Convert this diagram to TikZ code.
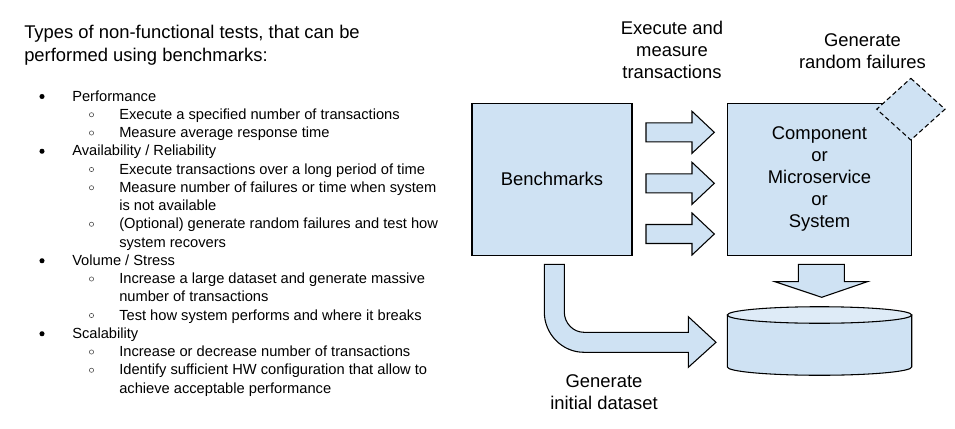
\documentclass[tikz,border=0pt]{standalone}
\usepackage{fontspec}
\setmainfont{Liberation Sans}
\usepackage{tikz}

\definecolor{paleblue}{HTML}{CFE2F3}
\definecolor{paletop}{HTML}{DEEBF7}

\tikzset{
  blockfill/.style={draw=black, fill=paleblue, line width=0.8pt, line join=miter},
  heading/.style={anchor=base west, inner sep=0pt, font=\fontsize{13.8}{16.5}\selectfont},
  entry/.style={anchor=base west, inner sep=0pt, font=\fontsize{11}{13.7}\selectfont},
  caption/.style={anchor=base, inner sep=0pt, font=\fontsize{13.8}{16.5}\selectfont},
}
\newcommand{\pointdot}[1]{\fill (42,#1-4.5) circle[radius=1.9pt];}
\newcommand{\pointring}[1]{\draw[black!70, line width=0.4pt] (91.5,#1-4.5) circle[radius=1.6pt];}

\begin{document}
\begin{tikzpicture}[x=0.75pt, y=-0.75pt]
  \useasboundingbox (0,0) rectangle (955,428);

  % left: list of test types
  \node[heading] (head1) at (24,39) {Types of non-functional tests, that can be};
  \node[heading] (head2) at (24,61) {performed using benchmarks:};

  \pointdot{101}    \node[entry] (perf)   at (72,101)    {Performance};
  \pointring{119.25}\node[entry] (perf1)  at (119,119.25){Execute a specified number of transactions};
  \pointring{137.5} \node[entry] (perf2)  at (119,137.5) {Measure average response time};
  \pointdot{155.75} \node[entry] (avail)  at (72,155.75) {Availability / Reliability};
  \pointring{174}   \node[entry] (avail1) at (119,174)   {Execute transactions over a long period of time};
  \pointring{192.25}\node[entry] (avail2) at (119,192.25){Measure number of failures or time when system};
                    \node[entry] (avail2b) at (119,210.5){is not available};
  \pointring{228.75}\node[entry] (avail3) at (119,228.75){(Optional) generate random failures and test how};
                    \node[entry] (avail3b) at (119,247)  {system recovers};
  \pointdot{265.25} \node[entry] (vol)    at (72,265.25) {Volume / Stress};
  \pointring{283.5} \node[entry] (vol1)   at (119,283.5) {Increase a large dataset and generate massive};
                    \node[entry] (vol1b)  at (119,301.75){number of transactions};
  \pointring{320}   \node[entry] (vol2)   at (119,320)   {Test how system performs and where it breaks};
  \pointdot{338.25} \node[entry] (scal)   at (72,338.25) {Scalability};
  \pointring{356.5} \node[entry] (scal1)  at (119,356.5) {Increase or decrease number of transactions};
  \pointring{374.75}\node[entry] (scal2)  at (119,374.75){Identify sufficient HW configuration that allow to};
                    \node[entry] (scal2b) at (119,393)   {achieve acceptable performance};

  % right: benchmark setup
  \node[blockfill, minimum width=120pt, minimum height=113.8pt, inner sep=0pt,
        font=\fontsize{13.8}{16.5}\selectfont] (bench) at (552,179.2) {Benchmarks};
  \node[blockfill, minimum width=138.3pt, minimum height=113.8pt, inner sep=0pt, align=center,
        font=\fontsize{13.8}{16.5}\selectfont] (comp) at (819.5,179.2)
        {Component\\or\\Microservice\\or\\System};

  % failure injector
  \draw[blockfill, dash pattern=on 3.5pt off 2.2pt]
        (910.8,78.3) -- (945,109.2) -- (910.8,140) -- (876.7,109.2) -- cycle;

  % transaction arrows
  \foreach \y in {132.3,183.3,234} {
    \draw[blockfill] (646,\y-9.5) -- (692,\y-9.5) -- (692,\y-21) -- (714.3,\y)
          -- (692,\y+21) -- (692,\y+9.5) -- (646,\y+9.5) -- cycle;
  }

  % component writes to the database
  \draw[blockfill] (798.3,264.3) -- (844.3,264.3) -- (844.3,281.7) -- (867.3,281.7)
        -- (821.7,297.3) -- (775,281.7) -- (798.3,281.7) -- cycle;

  % initial dataset arrow
  \draw[blockfill] (544.3,264.3) -- (564.3,264.3) -- (564.3,312)
        .. controls (564.3,323) and (573,332.3) .. (584,332.3)
        -- (688.3,332.3) -- (688.3,316.7) -- (716,342.3) -- (688.3,367.3)
        -- (688.3,352.3) -- (584,352.3)
        .. controls (562,352.3) and (544.3,334) .. (544.3,312) -- cycle;

  % database
  \draw[blockfill] (727.3,315) -- (727.3,367)
        arc[start angle=180, end angle=360, x radius=69.15pt, y radius=6.2pt]
        -- (911.7,315) -- cycle;
  \draw[blockfill, fill=paletop] (819.5,315) ellipse[x radius=69.15pt, y radius=6.2pt];

  % captions
  \node[caption] (exec1) at (672,35)   {Execute and};
  \node[caption] (exec2) at (672,57)   {measure};
  \node[caption] (exec3) at (672,79)   {transactions};
  \node[caption] (fail1) at (862.5,47) {Generate};
  \node[caption] (fail2) at (862.5,69) {random failures};
  \node[caption] (init1) at (604,387)  {Generate};
  \node[caption] (init2) at (604,409)  {initial dataset};
\end{tikzpicture}
\end{document}
